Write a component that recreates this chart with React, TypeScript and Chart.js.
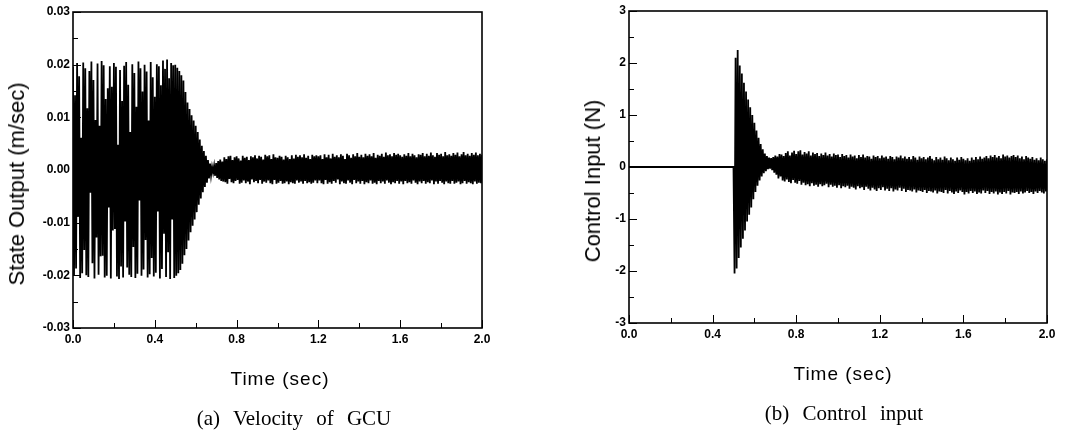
import React, { useEffect, useRef } from "react";
import { Chart, registerables } from "chart.js";

Chart.register(...registerables);

// sampling interval of the recorded signals (s), 0.000 .. 2.000
const SAMPLE_STEP = 0.005;

// (a) Velocity of GCU, state output (m/sec) — one row = 0.05 s
const velocityGCU = [
  0.0196, -0.0201, 0.0142, -0.0187, 0.0203, -0.0089, 0.0178, -0.0205, 0.0061, -0.0196,
  0.0204, -0.0152, 0.0193, -0.02, 0.0117, -0.0203, 0.0188, -0.0043, 0.0206, -0.0177,
  0.0171, -0.0206, 0.0095, -0.0128, 0.0202, -0.0199, 0.0084, -0.0164, 0.0207, -0.0163,
  0.0199, -0.0204, 0.0135, -0.0201, 0.0155, -0.0071, 0.0197, -0.0206, 0.0158, -0.0115,
  0.0203, -0.0112, 0.0196, -0.0202, 0.0048, -0.0207, 0.019, -0.0183, 0.0131, -0.0204,
  0.0198, -0.0098, 0.0205, -0.0185, 0.0162, -0.0199, 0.0072, -0.0203, 0.0201, -0.0146,
  0.0184, -0.0205, 0.012, -0.0197, 0.0206, -0.0058, 0.0193, -0.0201, 0.0149, -0.0189,
  0.02, -0.0133, 0.0187, -0.0204, 0.0094, -0.0198, 0.0205, -0.0167, 0.0176, -0.0202,
  0.0139, -0.0195, 0.0201, -0.0079, 0.0197, -0.0206, 0.0161, -0.0188, 0.0208, -0.0121,
  0.0192, -0.0203, 0.021, -0.0156, 0.0174, -0.0207, 0.0203, -0.0094, 0.0199, -0.0205,
  0.02, -0.0201, 0.0194, -0.0196, 0.0188, -0.019, 0.018, -0.0178, 0.017, -0.0162,
  0.0148, -0.015, 0.0128, -0.0134, 0.0116, -0.0118, 0.0104, -0.0106, 0.0094, -0.0094,
  0.0084, -0.008, 0.0072, -0.0066, 0.0058, -0.0054, 0.0046, -0.0042, 0.0036, -0.0032,
  0.0027, -0.0024, 0.0019, -0.0016, 0.0012, -0.001, 0.0006, -0.0005, 0.0008, -0.0011,
  0.0013, -0.0015, 0.0017, -0.0018, 0.002, -0.0021, 0.0016, -0.0022, 0.0024, -0.0023,
  0.0021, -0.0026, 0.0026, -0.0017, 0.0027, -0.0023, 0.0019, -0.0025, 0.0024, -0.0021,
  0.0026, -0.0019, 0.0022, -0.0026, 0.0018, -0.0024, 0.0027, -0.002, 0.0023, -0.0025,
  0.0025, -0.0022, 0.0019, -0.0027, 0.0026, -0.0018, 0.0024, -0.0023, 0.0028, -0.0021,
  0.0022, -0.0025, 0.0027, -0.0019, 0.0025, -0.0026, 0.002, -0.0022, 0.0029, -0.0024,
  0.0026, -0.002, 0.0028, -0.0025, 0.0021, -0.0027, 0.003, -0.0019, 0.0024, -0.0026,
  0.0023, -0.0024, 0.0027, -0.0021, 0.0025, -0.0026, 0.002, -0.0025, 0.0027, -0.0022,
  0.0024, -0.0027, 0.0021, -0.0023, 0.0028, -0.0025, 0.0022, -0.0026, 0.0029, -0.002,
  0.0025, -0.0024, 0.0028, -0.0022, 0.0024, -0.0026, 0.003, -0.0021, 0.0023, -0.0025,
  0.0027, -0.0023, 0.0021, -0.0026, 0.0029, -0.0024, 0.0026, -0.002, 0.0028, -0.0025,
  0.0026, -0.002, 0.0028, -0.0025, 0.0021, -0.0027, 0.003, -0.0019, 0.0024, -0.0026,
  0.0029, -0.0023, 0.0022, -0.0026, 0.0031, -0.0021, 0.0025, -0.0024, 0.0028, -0.0018,
  0.0024, -0.0027, 0.003, -0.0022, 0.0027, -0.0025, 0.0021, -0.0026, 0.0031, -0.002,
  0.0028, -0.0024, 0.0023, -0.0027, 0.003, -0.0019, 0.0026, -0.0025, 0.0032, -0.0022,
  0.0025, -0.0026, 0.0029, -0.0021, 0.0024, -0.0027, 0.0031, -0.0023, 0.0027, -0.0025,
  0.003, -0.002, 0.0026, -0.0026, 0.0032, -0.0024, 0.0023, -0.0027, 0.0029, -0.0021,
  0.0027, -0.0025, 0.0031, -0.0022, 0.0025, -0.0026, 0.0033, -0.002, 0.0028, -0.0024,
  0.003, -0.0027, 0.0026, -0.0023, 0.0032, -0.0025, 0.0029, -0.0021, 0.0031, -0.0026,
  0.0028, -0.0022, 0.0025, -0.0027, 0.003, -0.0021, 0.0027, -0.0025, 0.0032, -0.0023,
  0.0026, -0.0026, 0.0031, -0.002, 0.0028, -0.0024, 0.0024, -0.0027, 0.003, -0.0022,
  0.0029, -0.0025, 0.0032, -0.0021, 0.0026, -0.0026, 0.0031, -0.0023, 0.0027, -0.0025,
  0.0033, -0.002, 0.0028, -0.0027, 0.0025, -0.0022, 0.0032, -0.0026, 0.0029, -0.0021,
  0.0031, -0.0024, 0.0026, -0.0027, 0.0034, -0.0022, 0.0028, -0.0025, 0.003, -0.0026,
  0.0027, -0.0021, 0.0032, -0.0026, 0.0029, -0.0024, 0.0033, -0.0022, 0.0026, -0.0027,
  0.003, -0.0025, 0.0034, -0.0021, 0.0028, -0.0026, 0.0031, -0.0023, 0.0027, -0.0025,
  0.0032, -0.0027, 0.0029, -0.0022, 0.0033, -0.0026, 0.0028, -0.0024, 0.0031, -0.0025,
  0.0029,
];

// (b) Control input (N) — one row = 0.05 s
const controlInput = [
  0, 0, 0, 0, 0, 0, 0, 0, 0, 0,
  0, 0, 0, 0, 0, 0, 0, 0, 0, 0,
  0, 0, 0, 0, 0, 0, 0, 0, 0, 0,
  0, 0, 0, 0, 0, 0, 0, 0, 0, 0,
  0, 0, 0, 0, 0, 0, 0, 0, 0, 0,
  0, 0, 0, 0, 0, 0, 0, 0, 0, 0,
  0, 0, 0, 0, 0, 0, 0, 0, 0, 0,
  0, 0, 0, 0, 0, 0, 0, 0, 0, 0,
  0, 0, 0, 0, 0, 0, 0, 0, 0, 0,
  0, 0, 0, 0, 0, 0, 0, 0, 0, 0,
  0, -2.05, 2.1, -1.95, 2.25, -1.75, 1.95, -1.55, 1.8, -1.38,
  1.62, -1.22, 1.45, -1.05, 1.3, -0.92, 1.15, -0.78, 1.0, -0.62,
  0.85, -0.48, 0.7, -0.36, 0.56, -0.26, 0.44, -0.18, 0.34, -0.12,
  0.26, -0.08, 0.21, -0.04, 0.18, -0.03, 0.17, -0.06, 0.19, -0.11,
  0.22, -0.15, 0.2, -0.22, 0.25, -0.18, 0.24, -0.26, 0.21, -0.28,
  0.27, -0.24, 0.3, -0.29, 0.22, -0.31, 0.28, -0.25, 0.31, -0.3,
  0.25, -0.32, 0.3, -0.27, 0.32, -0.34, 0.24, -0.3, 0.29, -0.35,
  0.26, -0.33, 0.3, -0.37, 0.22, -0.31, 0.28, -0.36, 0.25, -0.34,
  0.27, -0.38, 0.21, -0.33, 0.26, -0.37, 0.23, -0.35, 0.28, -0.32,
  0.22, -0.39, 0.25, -0.34, 0.2, -0.38, 0.26, -0.36, 0.23, -0.4,
  0.24, -0.35, 0.19, -0.41, 0.25, -0.37, 0.21, -0.39, 0.23, -0.36,
  0.18, -0.42, 0.24, -0.38, 0.2, -0.4, 0.22, -0.43, 0.17, -0.37,
  0.23, -0.41, 0.19, -0.39, 0.24, -0.44, 0.18, -0.38, 0.21, -0.42,
  0.2, -0.45, 0.16, -0.4, 0.22, -0.43, 0.19, -0.46, 0.21, -0.41,
  0.17, -0.44, 0.22, -0.39, 0.18, -0.45, 0.2, -0.42, 0.16, -0.46,
  0.21, -0.41, 0.19, -0.47, 0.15, -0.43, 0.2, -0.45, 0.18, -0.4,
  0.22, -0.46, 0.17, -0.42, 0.2, -0.48, 0.16, -0.44, 0.19, -0.45,
  0.15, -0.47, 0.21, -0.43, 0.18, -0.49, 0.14, -0.45, 0.2, -0.46,
  0.17, -0.48, 0.19, -0.44, 0.15, -0.5, 0.18, -0.46, 0.21, -0.47,
  0.16, -0.49, 0.13, -0.45, 0.19, -0.51, 0.15, -0.47, 0.18, -0.48,
  0.14, -0.5, 0.2, -0.44, 0.17, -0.51, 0.13, -0.46, 0.18, -0.49,
  0.15, -0.52, 0.12, -0.47, 0.18, -0.5, 0.14, -0.45, 0.19, -0.48,
  0.16, -0.53, 0.13, -0.48, 0.17, -0.51, 0.12, -0.46, 0.18, -0.5,
  0.14, -0.47, 0.19, -0.52, 0.15, -0.49, 0.2, -0.51, 0.16, -0.45,
  0.18, -0.5, 0.21, -0.46, 0.17, -0.52, 0.22, -0.48, 0.19, -0.51,
  0.23, -0.47, 0.18, -0.53, 0.21, -0.49, 0.17, -0.52, 0.24, -0.48,
  0.2, -0.51, 0.22, -0.46, 0.18, -0.53, 0.21, -0.49, 0.23, -0.5,
  0.19, -0.48, 0.22, -0.52, 0.17, -0.47, 0.2, -0.51, 0.15, -0.49,
  0.21, -0.46, 0.18, -0.5, 0.16, -0.48, 0.19, -0.52, 0.14, -0.47,
  0.17, -0.5, 0.13, -0.46, 0.18, -0.49, 0.15, -0.51, 0.12, -0.47,
  0.15,
];

// tick positions
const timeMajorTicks = [0, 0.4, 0.8, 1.2, 1.6, 2.0];
const timeMinorTicks = [0.2, 0.6, 1.0, 1.4, 1.8];
const velocityMajorTicks = [-0.03, -0.02, -0.01, 0, 0.01, 0.02, 0.03];
const velocityMinorTicks = [-0.025, -0.015, -0.005, 0.005, 0.015, 0.025];
const controlMajorTicks = [-3, -2, -1, 0, 1, 2, 3];
const controlMinorTicks = [-2.5, -1.5, -0.5, 0.5, 1.5, 2.5];

const TIME_TITLE = "Time (sec)";

const frameTicksPlugin = {
  id: "frameTicks",
  afterDatasetsDraw(chart: any, _args: any, opts: any) {
    const { ctx, chartArea } = chart;
    const xs = chart.scales.x;
    const ys = chart.scales.y;
    ctx.save();
    ctx.strokeStyle = "#000";
    ctx.lineWidth = 1;
    ctx.beginPath();
    (opts.xMajor || []).forEach((v: number) => {
      const px = Math.round(xs.getPixelForValue(v)) + 0.5;
      ctx.moveTo(px, chartArea.bottom);
      ctx.lineTo(px, chartArea.bottom - 8);
    });
    (opts.xMinor || []).forEach((v: number) => {
      const px = Math.round(xs.getPixelForValue(v)) + 0.5;
      ctx.moveTo(px, chartArea.bottom);
      ctx.lineTo(px, chartArea.bottom - 5);
    });
    (opts.yMajor || []).forEach((v: number) => {
      const py = Math.round(ys.getPixelForValue(v)) + 0.5;
      ctx.moveTo(chartArea.left, py);
      ctx.lineTo(chartArea.left + 8, py);
    });
    (opts.yMinor || []).forEach((v: number) => {
      const py = Math.round(ys.getPixelForValue(v)) + 0.5;
      ctx.moveTo(chartArea.left, py);
      ctx.lineTo(chartArea.left + 5, py);
    });
    ctx.stroke();
    ctx.lineWidth = 1.6;
    ctx.strokeRect(
      chartArea.left,
      chartArea.top,
      chartArea.right - chartArea.left,
      chartArea.bottom - chartArea.top
    );
    ctx.restore();
  },
};

type PanelProps = {
  left: number;
  width: number;
  height: number;
  area: { left: number; right: number; top: number; bottom: number };
  values: number[];
  yMin: number;
  yMax: number;
  yStep: number;
  yDecimals: number;
  yMajor: number[];
  yMinor: number[];
};

function Panel(p: PanelProps) {
  const ref = useRef<HTMLCanvasElement | null>(null);
  useEffect(() => {
    if (!ref.current) return;
    const points = p.values.map((v, i) => ({ x: +(i * SAMPLE_STEP).toFixed(3), y: v }));
    const tickFont = { family: "'Liberation Sans', Arial, sans-serif", size: 12, weight: "bold" as const };
    const chart = new Chart(ref.current, {
      type: "line",
      data: {
        datasets: [
          {
            data: points,
            borderColor: "#000",
            borderWidth: 1.8,
            pointRadius: 0,
            tension: 0,
            fill: false,
          },
        ],
      },
      options: {
        animation: false,
        responsive: false,
        maintainAspectRatio: false,
        events: [],
        layout: {
          padding: { top: p.area.top, right: p.width - p.area.right, bottom: 0, left: 0 },
        },
        plugins: {
          legend: { display: false },
          tooltip: { enabled: false },
          frameTicks: {
            xMajor: timeMajorTicks,
            xMinor: timeMinorTicks,
            yMajor: p.yMajor,
            yMinor: p.yMinor,
          },
        } as any,
        scales: {
          x: {
            type: "linear",
            min: 0,
            max: 2,
            grid: { display: false, drawTicks: false },
            border: { display: false },
            ticks: {
              stepSize: 0.4,
              padding: 4,
              color: "#000",
              font: tickFont,
              maxRotation: 0,
              autoSkip: false,
              callback: (v: any) => Number(v).toFixed(1),
            },
            afterFit: (s: any) => {
              s.height = p.height - p.area.bottom;
            },
          },
          y: {
            type: "linear",
            min: p.yMin,
            max: p.yMax,
            grid: { display: false, drawTicks: false },
            border: { display: false },
            ticks: {
              stepSize: p.yStep,
              padding: 3,
              color: "#000",
              font: tickFont,
              autoSkip: false,
              callback: (v: any) => {
                const n = Math.abs(Number(v)) < 1e-9 ? 0 : Number(v);
                return n.toFixed(p.yDecimals);
              },
            },
            afterFit: (s: any) => {
              s.width = p.area.left;
            },
          },
        },
      },
      plugins: [frameTicksPlugin],
    });
    return () => chart.destroy();
  }, []);
  return (
    <canvas
      ref={ref}
      width={p.width}
      height={p.height}
      style={{ position: "absolute", left: p.left, top: 0, width: p.width, height: p.height }}
    />
  );
}

const sans = "'Liberation Sans', Arial, sans-serif";
const serif = "'Liberation Serif', 'Times New Roman', serif";

function Label(props: {
  text: string;
  x: number;
  y: number;
  size: number;
  family: string;
  rotate?: boolean;
  spacing?: number;
  wordSpacing?: number;
}) {
  return (
    <div
      style={{
        position: "absolute",
        left: props.x,
        top: props.y,
        transform: `translate(-50%, -50%)${props.rotate ? " rotate(-90deg)" : ""}`,
        whiteSpace: "nowrap",
        fontFamily: props.family,
        fontSize: props.size,
        lineHeight: 1,
        letterSpacing: props.spacing ?? 0,
        wordSpacing: props.wordSpacing ?? 0,
        color: "#000",
      }}
    >
      {props.text}
    </div>
  );
}

export default function App() {
  return (
    <div
      style={{
        position: "absolute",
        left: 0,
        top: 0,
        width: 1081,
        height: 440,
        background: "#fff",
        overflow: "hidden",
      }}
    >
      <Panel
        left={0}
        width={540}
        height={440}
        area={{ left: 73, right: 482, top: 12, bottom: 328 }}
        values={velocityGCU}
        yMin={-0.03}
        yMax={0.03}
        yStep={0.01}
        yDecimals={2}
        yMajor={velocityMajorTicks}
        yMinor={velocityMinorTicks}
      />
      <Panel
        left={540}
        width={541}
        height={440}
        area={{ left: 89, right: 507, top: 11, bottom: 323 }}
        values={controlInput}
        yMin={-3}
        yMax={3}
        yStep={1}
        yDecimals={0}
        yMajor={controlMajorTicks}
        yMinor={controlMinorTicks}
      />
      <Label text="State Output (m/sec)" x={17} y={184} size={22} family={sans} rotate />
      <Label text={TIME_TITLE} x={280} y={378} size={19} family={sans} spacing={1} />
      <Label text="(a) Velocity of GCU" x={294} y={418} size={21} family={serif} wordSpacing={8} />
      <Label text="Control Input (N)" x={593} y={181} size={22} family={sans} rotate />
      <Label text={TIME_TITLE} x={843} y={373} size={19} family={sans} spacing={1} />
      <Label text="(b) Control input" x={844} y={413} size={21} family={serif} wordSpacing={8} />
    </div>
  );
}
